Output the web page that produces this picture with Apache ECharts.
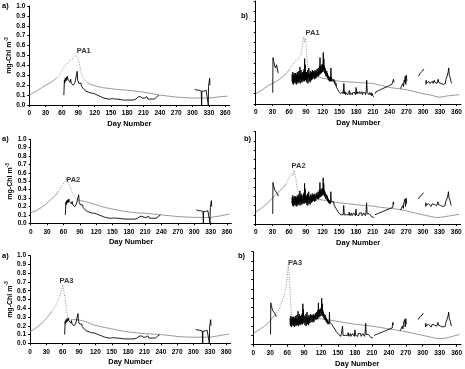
<!DOCTYPE html>
<html>
<head>
<meta charset="utf-8">
<script src="https://cdn.jsdelivr.net/npm/echarts@6/dist/echarts.min.js"></script>
<style>
html,body{margin:0;padding:0;background:#fff;}
#main{width:465px;height:369px;}
</style>
</head>
<body>
<div id="main"></div>
<script>
// axis ticks
var xTicks = [0, 30, 60, 90, 120, 150, 180, 210, 240, 270, 300, 330, 360];
var yTicks = [0, 0.1, 0.2, 0.3, 0.4, 0.5, 0.6, 0.7, 0.8, 0.9, 1.0];

// model runs, [day, mg Chl m-3]
var modelA1 = [[0,0.1],[10,0.13],[20,0.165],[30,0.2],[40,0.23],[45,0.25],[50,0.27],[55,0.3],[60,0.35],[65,0.39],[70,0.42],[75,0.45],[80,0.47],[85,0.5],[88,0.52],[90,0.47],[93,0.39],[96,0.31],[99,0.27],[102,0.25],[106,0.23],[112,0.21],[120,0.195],[135,0.175],[150,0.165],[165,0.155],[180,0.15],[195,0.14],[210,0.13],[225,0.115],[240,0.1],[255,0.09],[270,0.08],[285,0.075],[300,0.07],[315,0.07],[330,0.07],[345,0.08],[365,0.09]];
var modelA2 = [[0,0.125],[10,0.15],[20,0.19],[30,0.24],[40,0.3],[45,0.33],[50,0.37],[55,0.42],[60,0.47],[63,0.5],[66,0.53],[69,0.49],[72,0.44],[75,0.39],[78,0.34],[82,0.3],[86,0.28],[91,0.27],[100,0.26],[110,0.24],[120,0.22],[135,0.19],[150,0.17],[165,0.15],[180,0.135],[195,0.125],[210,0.12],[225,0.11],[240,0.1],[255,0.09],[270,0.08],[285,0.075],[300,0.07],[315,0.07],[330,0.07],[345,0.085],[365,0.11]];
var modelA3 = [[0,0.13],[10,0.17],[20,0.22],[30,0.285],[40,0.36],[46,0.42],[50,0.47],[55,0.55],[58,0.61],[60,0.67],[62,0.6],[64,0.52],[66,0.43],[68,0.34],[70,0.28],[75,0.27],[85,0.27],[95,0.26],[105,0.24],[116,0.21],[130,0.19],[150,0.165],[165,0.145],[180,0.13],[195,0.12],[210,0.11],[225,0.105],[240,0.1],[255,0.09],[270,0.078],[285,0.072],[300,0.07],[315,0.07],[330,0.07],[345,0.085],[365,0.105]];
var modelB1 = [[0,0.1],[10,0.13],[20,0.17],[30,0.2],[40,0.23],[45,0.25],[50,0.27],[55,0.3],[60,0.33],[65,0.37],[70,0.41],[75,0.43],[78,0.45],[80,0.47],[82,0.5],[84,0.58],[86,0.65],[87,0.66],[88,0.6],[89,0.64],[90,0.62],[91,0.52],[92,0.45],[93,0.38],[95,0.32],[98,0.3],[102,0.29],[110,0.27],[120,0.25],[135,0.235],[150,0.22],[165,0.215],[180,0.21],[195,0.205],[210,0.2],[225,0.18],[240,0.16],[255,0.15],[270,0.14],[285,0.12],[300,0.1],[315,0.085],[325,0.07],[330,0.065],[345,0.08],[365,0.09]];
var modelB2 = [[0,0.13],[10,0.17],[20,0.22],[30,0.28],[40,0.34],[45,0.37],[50,0.4],[54,0.43],[58,0.48],[61,0.52],[63,0.5],[65,0.55],[67,0.52],[69,0.58],[71,0.59],[72,0.5],[74,0.4],[77,0.33],[82,0.31],[92,0.29],[105,0.275],[120,0.26],[135,0.245],[150,0.23],[165,0.22],[180,0.21],[195,0.2],[210,0.195],[225,0.18],[240,0.17],[255,0.16],[270,0.145],[285,0.12],[300,0.1],[315,0.08],[325,0.07],[335,0.075],[350,0.09],[365,0.105]];
var modelB3 = [[0,0.12],[10,0.16],[20,0.2],[30,0.26],[38,0.32],[45,0.37],[50,0.45],[55,0.54],[58,0.62],[60,0.72],[62,0.86],[63,0.78],[65,0.6],[66,0.48],[67,0.37],[68,0.29],[72,0.27],[80,0.27],[90,0.28],[105,0.28],[120,0.28],[135,0.265],[150,0.25],[165,0.235],[180,0.22],[195,0.21],[210,0.2],[225,0.185],[240,0.17],[255,0.155],[270,0.14],[285,0.12],[300,0.1],[315,0.08],[322,0.07],[330,0.065],[340,0.07],[350,0.085],[365,0.11]];

// observed, station a
var obsA = [[63.5,0.10],[64.5,0.25],[65,0.22],[66,0.27],[67,0.24],[68,0.28],[69,0.25],[70,0.29],[71,0.26],[72,0.28],[73,0.24],[74,0.27],[75,0.23],[76,0.26],[77,0.22],[78,0.24],[79,0.21],[80,0.23],[81,0.2],[82,0.22],[83,0.2],[84,0.23],[85,0.21],[86,0.25],[87,0.24],[88,0.34],[89,0.25],[90,0.27],[91,0.22],[92,0.24],[93,0.21],[94,0.2],[95,0.22],[96,0.19],[97,0.18],[98,0.19],[99,0.17],[100,0.16],[101,0.17],[102,0.15],[103,0.15],[104,0.14],[105,0.15],[106,0.13],[107,0.14],[109,0.13],[111,0.12],[112,0.14],[113,0.12],[115,0.13],[117,0.12],[119,0.11],[120,0.13],[121,0.11],[123,0.11],[125,0.1],[127,0.1],[129,0.09],[131,0.09],[133,0.08],[135,0.08],[137,0.07],[138,0.08],[139,0.07],[141,0.065],[143,0.07],[145,0.06],[147,0.065],[149,0.06],[151,0.06],[153,0.065],[155,0.055],[157,0.06],[159,0.055],[161,0.06],[164,0.05],[167,0.055],[170,0.05],[173,0.05],[176,0.045],[179,0.05],[182,0.045],[185,0.05],[188,0.045],[191,0.05],[194,0.055],[196,0.06],[198,0.07],[200,0.08],[202,0.075],[204,0.085],[206,0.075],[208,0.07],[210,0.075],[212,0.07],[214,0.08],[216,0.085],[218,0.06],[220,0.055],[222,0.06],[224,0.055],[226,0.06],[228,0.055],[230,0.06],[232,0.06],[234,0.08],[236,0.1],[238,0.1],[239,'-'],
  [304,0.16],[306,0.155],[308,0.15],[310,0.145],[312,0.15],[314,0.145],[316,0.14],[316.8,0],[317.2,0.14],[319,0.145],[321,0.14],[323,0.145],[325,0.15],[327,0.16],[328.5,0.17],[329,0],[329.5,0.19],[330.5,0.23],[331.5,0.27],[332,0.2]];

// observed, station b : dense part from day 65, then daily
var obsBDenseStart = 65;
var obsBDenseEnd = 137;
var obsBDense = [0.22,0.29,0.2,0.31,0.24,0.19,0.28,0.23,0.3,0.21,0.26,0.2,0.3,0.23,0.27,0.19,0.29,0.22,0.31,0.24,0.2,
  0.28,0.22,0.32,0.21,0.27,0.24,0.36,0.2,0.3,0.25,0.33,0.22,0.29,0.21,0.31,0.24,0.27,0.22,0.32,
  0.24,0.34,0.22,0.44,0.26,0.38,0.23,0.3,0.25,
  0.31,0.21,0.28,0.24,0.33,0.2,0.29,0.26,0.35,0.22,0.3,0.24,0.27,0.21,0.32,0.25,0.29,0.23,0.31,
  0.26,0.33,0.24,0.3,0.27,0.32,0.25,0.31,0.28,0.24,0.33,0.27,0.3,0.25,0.32,0.28,0.26,0.34,0.27,0.31,0.29,0.35,0.27,
  0.33,0.28,0.37,0.3,0.45,0.29,0.36,0.31,0.38,0.3,0.34,
  0.32,0.39,0.31,0.36,0.5,0.33,0.44,0.31,0.37,0.3,0.35,
  0.29,0.33,0.27,0.31,0.28,0.32,0.26,0.3,0.25,0.28,0.24,
  0.27,0.23,0.26,0.22,0.25,0.23,0.27,0.22,0.35,0.24,0.26,0.22,0.24];
var obsBSpike = [[30.5,0.11],[31,0.45],[32,0.42],[33,0.4],[34,0.37],[35.5,0.35],[37.5,0.38],[39,0.33],[40.5,0.3]];
var obsBTail = [[138,0.25],[139,0.22],[140,0.24],[141,0.2],[142,0.22],[143,0.18],[144,0.2],[145,0.16],[146,0.17],[147,0.14],[148,0.15],[149,0.12],[150,0.13],[151,0.11],[152,0.12],[153,0.1],[154,0.11],[155,0.09],[156,0.12],[157,0.1],[158,0.2],[159,0.1],[160,0.12],[161,0.09],[162,0.11],[163,0.1],[164,0.12],[165,0.09],[166,0.11],[167,0.1],[168,0.13],[169,0.09],[170,0.11],[171,0.1],[172,0.12],[173,0.09],[174,0.11],[175,0.1],[176,0.12],[177,0.1],[178,0.11],[179,0.09],[180,0.16],[181,0.1],[182,0.12],[183,0.1],[184,0.11],[185,0.09],[186,0.12],[187,0.1],[188,0.11],[189,0.1],[190,0.12],[191,0.09],[192,0.11],[193,0.1],[194,0.12],[195,0.1],[196,0.11],[197,0.09],[198,0.12],[199,0.23],[200,0.11],[201,0.1],[202,0.12],[203,0.09],[204,0.11],[205,0.1],[206,0.09],[207,0.11],[208,0.08],[209,0.1],[210,0.08],[211,0.09],[212,0.07]];
var obsBLate = [[214,0.1],[216,0.12],[218,0.11],[220,0.13],[222,0.12],[224,0.14],[226,0.13],[228,0.15],[230,0.14],[232,0.16],[234,0.15],[236,0.17],[238,0.16],[240,0.18],[242,0.17],[244,0.19],[246,0.18],[247,0.24],[248,0.21],[249,'-'],
  [260,0.15],[261,0.17],[262,0.16],[264,0.2],[265,0.17],[266,0.23],[267,0.21],[268,0.27],[269,0.19],[270,0.28],[271,0.22],[272,'-'],
  [292,0.27],[293,0.28],[295,0.3],[297,0.31],[299,0.32],[301,0.34],[302,'-'],
  [305,0.19],[305.5,0.23],[306,0.2],[308,0.21],[309,0.19],[310,0.22],[312,0.2],[313,0.21],[315,0.19],[317,0.22],[318,0.2],[320,0.23],[321,0.21],[323,0.22],[325,0.2],[327,0.24],[328,0.21],[330,0.22],[332,0.2],[334,0.21],[336,0.19],[338,0.18],[340,0.2],[341,0.24],[343,0.27],[345,0.31],[346,0.35],[347,0.28],[349,0.25],[350,0.22],[351,0.2]];

var font = "'Liberation Sans', Arial, sans-serif";

// build station b series
var obsB = obsBSpike.concat([[41,'-']]);
var stepB = (obsBDenseEnd - obsBDenseStart) / (obsBDense.length - 1);
obsBDense.forEach(function(v, i){ obsB.push([obsBDenseStart + i*stepB, v]); });
obsB = obsB.concat(obsBTail, [[213,'-']], obsBLate);

var panels = [
	{tag:'a)', tagPos:[2,6],   grid:{left:29.3, top:6,     width:200.2, height:99},   model:modelA1, win:[50,106], obs:obsA, lab:'PA1', labAt:[100,0.545], yLab:true},
	{tag:'b)', tagPos:[241,16], grid:{left:255.7, top:1,    width:205.3, height:103},  model:modelB1, win:[60,98],  obs:obsB, lab:'PA1', labAt:[102,0.69],  yLab:false},
	{tag:'a)', tagPos:[2,139], grid:{left:30.7, top:139.3, width:200.6, height:84},   model:modelA2, win:[50,91],  obs:obsA, lab:'PA2', labAt:[78,0.52],   yLab:true},
	{tag:'b)', tagPos:[244,139], grid:{left:255.7, top:131.7, width:205, height:92.3}, model:modelB2, win:[54,82],  obs:obsB, lab:'PA2', labAt:[77,0.63],   yLab:false},
	{tag:'a)', tagPos:[2,256], grid:{left:30, top:255.7,   width:200.6, height:87.6}, model:modelA3, win:[40,75],  obs:obsA, lab:'PA3', labAt:[67,0.715],  yLab:true},
	{tag:'b)', tagPos:[238,256], grid:{left:253.3, top:251.7, width:208.3, height:93}, model:modelB3, win:[38,72],  obs:obsB, lab:'PA3', labAt:[74,0.88],   yLab:false}
];

var option = {
	animation: false,
	backgroundColor: '#fff',
	textStyle: {fontFamily: font},
	grid: [], xAxis: [], yAxis: [], series: [], graphic: []
};

panels.forEach(function(p, i){
	option.grid.push(p.grid);
	option.xAxis.push({
		type:'value', gridIndex:i, min:0, max:368,
		name:'Day Number', nameLocation:'middle', nameGap:15,
		nameTextStyle:{fontSize:7.5, fontWeight:'bold', color:'#000'},
		axisLine:{lineStyle:{color:'#000', width:1}},
		axisTick:{length:2, customValues:xTicks, lineStyle:{color:'#000'}},
		axisLabel:{fontSize:6.5, fontWeight:'bold', color:'#000', margin:5, customValues:xTicks},
		splitLine:{show:false}
	});
	option.yAxis.push({
		type:'value', gridIndex:i, min:0, max:1, interval:0.1,
		name: p.yLab ? '{a|mg-Chl m}{s|-3}' : '', nameLocation:'middle', nameRotate:90, nameGap:15,
		nameTextStyle:{rich:{a:{fontSize:7, fontWeight:'bold', color:'#000'}, s:{fontSize:5, fontWeight:'bold', color:'#000', padding:[0,0,5,0]}}},
		axisLine:{show:true, lineStyle:{color:'#000', width:1}},
		axisTick:{show:true, length:2, customValues:yTicks, lineStyle:{color:'#000'}},
		axisLabel:{show:p.yLab, fontSize:6.5, fontWeight:'bold', color:'#000', margin:4, customValues:yTicks,
			formatter:function(v){ return v.toFixed(1); }},
		splitLine:{show:false}
	});
	var ws = p.win[0], we = p.win[1];
	var solid = p.model.map(function(d){ return (d[0] > ws && d[0] < we) ? [d[0], '-'] : d; });
	var dotted = p.model.filter(function(d){ return d[0] >= ws && d[0] <= we; });
	option.series.push({type:'line', xAxisIndex:i, yAxisIndex:i, data:solid, symbol:'none',
		lineStyle:{color:'#6e6e6e', width:0.7}, z:2});
	option.series.push({type:'line', xAxisIndex:i, yAxisIndex:i, data:dotted, symbol:'none',
		lineStyle:{color:'#8f8f8f', width:1, type:[1,1.5]}, z:2});
	option.series.push({type:'line', xAxisIndex:i, yAxisIndex:i, data:p.obs, symbol:'none',
		lineStyle:{color:'#000', width:0.9}, z:3});
	option.series.push({type:'scatter', xAxisIndex:i, yAxisIndex:i, data:[p.labAt], symbolSize:0,
		label:{show:true, position:'inside', formatter:p.lab, fontSize:7.5, fontWeight:'bold', color:'#000'}, z:4});
	option.graphic.push({type:'text', left:p.tagPos[0], top:p.tagPos[1] - 4,
		style:{text:p.tag, font:'bold 7.5px ' + font, fill:'#000'}});
});

var chart = echarts.init(document.getElementById('main'), null, {renderer:'canvas'});
chart.setOption(option);
</script>
</body>
</html>
